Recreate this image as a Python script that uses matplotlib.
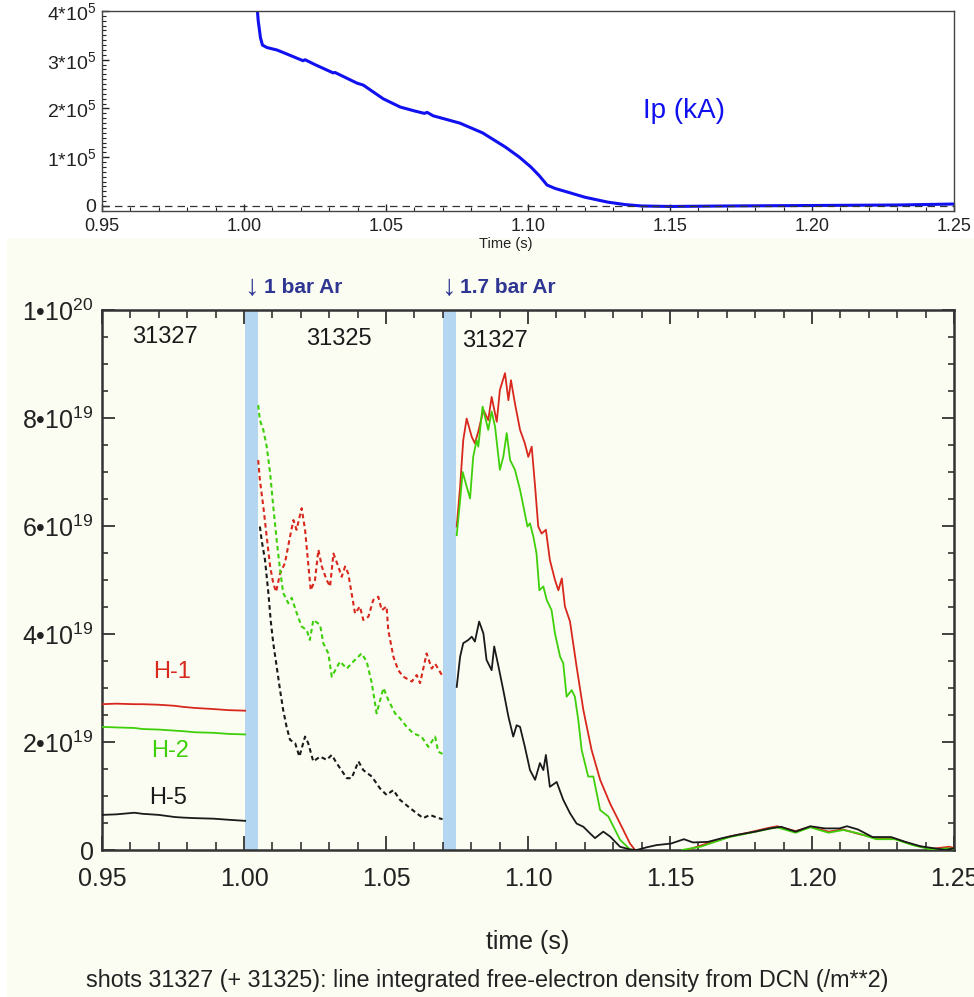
import matplotlib
matplotlib.use("Agg")
import matplotlib.pyplot as plt
from matplotlib.patches import Rectangle
from matplotlib.ticker import MultipleLocator

plt.rcParams['font.family'] = ['Liberation Sans', 'DejaVu Sans']
plt.rcParams['mathtext.fontset'] = 'custom'
plt.rcParams['mathtext.rm'] = 'Liberation Sans'
plt.rcParams['mathtext.it'] = 'Liberation Sans:italic'
plt.rcParams['mathtext.bf'] = 'Liberation Sans:bold'

# ---------------- data ----------------
# Plasma current (top panel), units of 1e5
ip_t = [1.0046, 1.0050, 1.0058, 1.0065, 1.0081, 1.0116, 1.015, 1.0208, 1.0215, 1.025,
        1.0314, 1.032, 1.0398, 1.042, 1.049, 1.055, 1.060, 1.0635, 1.0645, 1.0666,
        1.076, 1.084, 1.092, 1.097, 1.101, 1.104, 1.1067, 1.1095, 1.1148, 1.12,
        1.128, 1.134, 1.140, 1.15, 1.17, 1.20, 1.23, 1.25]
ip_v = [4.1, 3.8, 3.45, 3.3, 3.25, 3.2, 3.12, 2.98, 3.0, 2.9,
        2.73, 2.74, 2.52, 2.48, 2.2, 2.03, 1.95, 1.9, 1.92, 1.85,
        1.7, 1.5, 1.21, 1.0, 0.80, 0.62, 0.43, 0.36, 0.27, 0.18,
        0.08, 0.03, 0.0, -0.01, 0.0, 0.01, 0.02, 0.04]

# Shot 31327 before gas puff (units 1e19)
pre_t = [0.95, 0.955, 0.9614, 0.9643, 0.97, 0.9757, 0.9786, 0.9828, 0.9893, 0.9945, 1.0004]
pre_h1 = [2.70, 2.71, 2.70, 2.70, 2.69, 2.67, 2.65, 2.63, 2.61, 2.59, 2.58]
pre_h2 = [2.28, 2.27, 2.26, 2.24, 2.23, 2.21, 2.20, 2.18, 2.17, 2.15, 2.14]
pre_h5 = [0.65, 0.66, 0.69, 0.67, 0.65, 0.61, 0.60, 0.59, 0.58, 0.56, 0.54]

# Shot 31325 (dashed)
s25_h1_t = [1.0050, 1.0056, 1.0068, 1.0080, 1.0092, 1.0103, 1.0113, 1.0127, 1.0144, 1.0162,
            1.0174, 1.0185, 1.0203, 1.0215, 1.0226, 1.0235, 1.0250, 1.0262, 1.0274, 1.0291,
            1.0303, 1.0315, 1.0332, 1.0344, 1.0356, 1.0367, 1.0379, 1.0391, 1.0408, 1.0420,
            1.0438, 1.0455, 1.0473, 1.0485, 1.0502, 1.0508, 1.0526, 1.0543, 1.0561, 1.0591,
            1.0608, 1.0620, 1.0643, 1.0661, 1.0673, 1.0699]
s25_h1_v = [7.22, 6.85, 6.36, 5.80, 5.25, 4.94, 4.78, 5.12, 5.31, 5.80,
            6.11, 5.93, 6.33, 5.93, 5.31, 4.81, 5.00, 5.56, 5.25, 5.00,
            4.88, 5.49, 5.25, 5.06, 5.25, 5.12, 4.75, 4.38, 4.51, 4.26,
            4.32, 4.63, 4.69, 4.44, 4.51, 4.07, 3.58, 3.33, 3.21, 3.12,
            3.24, 3.09, 3.64, 3.36, 3.45, 3.22]
s25_h2_t = [1.0050, 1.0056, 1.0068, 1.0080, 1.0092, 1.0103, 1.0115, 1.0127, 1.0138, 1.0156,
            1.0168, 1.0186, 1.0203, 1.0221, 1.0232, 1.0244, 1.0268, 1.0279, 1.0297, 1.0309,
            1.0338, 1.0362, 1.0385, 1.0414, 1.0432, 1.0450, 1.0467, 1.0491, 1.0508, 1.0532,
            1.0549, 1.0573, 1.0596, 1.0625, 1.0649, 1.0673, 1.0684, 1.0699]
s25_h2_v = [8.24, 7.96, 7.78, 7.47, 6.98, 6.36, 5.74, 5.19, 4.76, 4.57,
            4.67, 4.38, 4.14, 4.07, 3.89, 4.26, 4.17, 3.83, 3.64, 3.21,
            3.49, 3.36, 3.49, 3.64, 3.49, 3.09, 2.53, 3.00, 2.78, 2.53,
            2.44, 2.28, 2.16, 2.10, 1.91, 2.10, 1.82, 1.78]
s25_h5_t = [1.0056, 1.0062, 1.0074, 1.0086, 1.0094, 1.0103, 1.0115, 1.0127, 1.0138, 1.0150,
            1.0162, 1.0180, 1.0195, 1.0215, 1.0226, 1.0244, 1.0268, 1.0291, 1.0309, 1.0326,
            1.0362, 1.0379, 1.0403, 1.0420, 1.0450, 1.0479, 1.0502, 1.0526, 1.0549, 1.0579,
            1.0608, 1.0631, 1.0655, 1.0679, 1.0699]
s25_h5_v = [5.99, 5.74, 5.37, 4.75, 4.25, 3.83, 3.40, 2.96, 2.59, 2.28,
            2.04, 1.98, 1.73, 2.10, 1.98, 1.64, 1.73, 1.67, 1.76, 1.61,
            1.33, 1.33, 1.64, 1.48, 1.36, 1.14, 1.02, 1.11, 0.93, 0.80,
            0.68, 0.59, 0.65, 0.60, 0.57]

# Shot 31327 after 1.7 bar Ar (solid)
s27_h1_t = [1.0749, 1.0761, 1.0772, 1.0784, 1.0802, 1.0813, 1.0825, 1.0843, 1.0860, 1.0872,
            1.0890, 1.0901, 1.0919, 1.0931, 1.0940, 1.0954, 1.0972, 1.0989, 1.1001, 1.1013,
            1.1025, 1.1036, 1.1048, 1.1063, 1.1077, 1.1095, 1.1107, 1.1119, 1.1130, 1.1148,
            1.1154, 1.1171, 1.1195, 1.1224, 1.1254, 1.1289, 1.1330, 1.1359, 1.1377]
s27_h1_v = [5.99, 6.73, 7.59, 7.99, 7.65, 7.53, 7.75, 8.15, 7.96, 8.39,
            7.93, 8.52, 8.83, 8.33, 8.70, 8.27, 7.78, 7.53, 7.28, 7.47,
            6.73, 5.99, 5.86, 5.93, 5.37, 5.00, 4.81, 5.03, 4.51, 4.23,
            4.01, 3.40, 2.59, 1.85, 1.30, 0.86, 0.43, 0.12, 0.0]
s27_h2_t = [1.0749, 1.0761, 1.0770, 1.0784, 1.0796, 1.0807, 1.0819, 1.0825, 1.0840, 1.0860,
            1.0872, 1.0884, 1.0901, 1.0913, 1.0925, 1.0937, 1.0954, 1.0972, 1.0984, 1.0998,
            1.1007, 1.1019, 1.1030, 1.1040, 1.1054, 1.1066, 1.1083, 1.1095, 1.1113, 1.1124,
            1.1136, 1.1154, 1.1165, 1.1177, 1.1189, 1.1212, 1.1230, 1.1254, 1.1283, 1.1324,
            1.1359, 1.1375]
s27_h2_v = [5.83, 6.48, 7.00, 6.73, 6.51, 7.28, 7.59, 7.47, 8.21, 7.78,
            8.12, 7.84, 7.04, 7.28, 7.72, 7.22, 7.04, 6.67, 6.36, 5.99,
            6.05, 5.80, 5.49, 4.81, 4.88, 4.63, 4.44, 4.01, 3.58, 3.46,
            2.84, 2.96, 2.84, 2.41, 1.85, 1.36, 1.36, 0.74, 0.62, 0.19,
            0.01, 0.0]
s27_h5_t = [1.0749, 1.0761, 1.0772, 1.0790, 1.0802, 1.0813, 1.0828, 1.0843, 1.0854, 1.0872,
            1.0881, 1.0896, 1.0913, 1.0931, 1.0948, 1.0960, 1.0972, 1.0989, 1.1007, 1.1025,
            1.1042, 1.1054, 1.1063, 1.1077, 1.1101, 1.1124, 1.1148, 1.1171, 1.1195, 1.1218,
            1.1236, 1.1265, 1.1289, 1.1324, 1.1359, 1.1383, 1.1418, 1.1452, 1.1504, 1.1549,
            1.1581, 1.1633, 1.1684, 1.1736, 1.1800, 1.1852, 1.1891, 1.1942, 1.1994, 1.2045,
            1.2097, 1.2123, 1.2162, 1.2213, 1.2278, 1.2329, 1.2381, 1.2432, 1.2471, 1.2497]
s27_h5_v = [3.02, 3.58, 3.83, 3.89, 3.95, 3.86, 4.23, 4.01, 3.52, 3.33,
            3.77, 3.40, 2.96, 2.47, 2.10, 2.31, 2.28, 1.91, 1.48, 1.30,
            1.61, 1.48, 1.76, 1.17, 1.26, 0.93, 0.68, 0.49, 0.43, 0.31,
            0.22, 0.34, 0.25, 0.06, 0.01, 0.0, 0.05, 0.09, 0.12, 0.20,
            0.14, 0.15, 0.22, 0.28, 0.34, 0.40, 0.43, 0.34, 0.44, 0.40,
            0.40, 0.44, 0.38, 0.24, 0.24, 0.15, 0.07, 0.03, 0.0, 0.03]
late_h1_t = [1.1560, 1.1607, 1.1658, 1.1710, 1.1775, 1.1839, 1.1877, 1.1942, 1.1994, 1.2058,
             1.2110, 1.2162, 1.2226, 1.2291, 1.2355, 1.2419, 1.2484, 1.2497]
late_h1_v = [0.0, 0.08, 0.17, 0.25, 0.32, 0.40, 0.44, 0.35, 0.43, 0.34,
             0.38, 0.30, 0.22, 0.21, 0.10, 0.02, 0.06, 0.04]
late_h2_t = [1.1542, 1.1607, 1.1658, 1.1710, 1.1775, 1.1839, 1.1877, 1.1942, 1.1994, 1.2058,
             1.2110, 1.2162, 1.2226, 1.2291, 1.2355, 1.2419, 1.2484, 1.2497]
late_h2_v = [0.0, 0.06, 0.15, 0.24, 0.31, 0.38, 0.42, 0.32, 0.42, 0.32,
             0.37, 0.31, 0.20, 0.20, 0.09, 0.01, 0.03, 0.02]

xticks = [0.95, 1.00, 1.05, 1.10, 1.15, 1.20, 1.25]
xticklabels = ['0.95', '1.00', '1.05', '1.10', '1.15', '1.20', '1.25']
top_yticks = [0, 1e5, 2e5, 3e5, 4e5]
top_yticklabels = ['0', r'1*10$^{5}$', r'2*10$^{5}$', r'3*10$^{5}$', r'4*10$^{5}$']
bot_yticks = [0, 2e19, 4e19, 6e19, 8e19, 1e20]
bot_yticklabels = ['0', r'2•10$^{19}$', r'4•10$^{19}$', r'6•10$^{19}$', r'8•10$^{19}$', r'1•10$^{20}$']
bands = [(1.0003, 1.0048), (1.0700, 1.0747)]

RED = '#d8281e'
GREEN = '#3fcf0a'
BLACK = '#1a1a1a'
BAND = '#b4d6f0'
ANN = '#2e3592'
CREAM = '#fbfdf3'

W, H = 974, 997
fig = plt.figure(figsize=(W / 100, H / 100), dpi=100)
fig.patch.set_facecolor('white')
bg = Rectangle((7 / W, 0), 1, (H - 238) / H, transform=fig.transFigure,
               facecolor=CREAM, edgecolor='none', zorder=-10)
fig.patches.append(bg)

def fx(px):
    return px / W

def fy(py):
    return 1 - py / H

# ---------------- top panel ----------------
ax1 = fig.add_axes([fx(102), fy(211), fx(954) - fx(102), fy(11) - fy(211)])
ax1.set_facecolor('white')
ax1.plot(ip_t, [v * 1e5 for v in ip_v], color='#1010f0', lw=2.2, solid_capstyle='butt')
ax1.axhline(0, color='#333333', lw=0.9, ls=(0, (6, 4)))
ax1.set_xlim(0.95, 1.25)
ax1.set_ylim(-1.03e4, 4.0e5)
ax1.set_xticks(xticks)
ax1.set_xticklabels(xticklabels)
ax1.set_yticks(top_yticks)
ax1.set_yticklabels(top_yticklabels)
ax1.xaxis.set_minor_locator(MultipleLocator(0.01))
ax1.yaxis.set_minor_locator(MultipleLocator(1e4))
ax1.tick_params(which='both', direction='in', labelsize=13, colors='#222222')
ax1.tick_params(axis='y', labelsize=14)
ax1.tick_params(which='major', length=5, width=1.0, pad=4)
ax1.tick_params(axis='x', which='major', pad=5)
ax1.tick_params(which='minor', length=3, width=0.8)
for s in ax1.spines.values():
    s.set_color('#444444')
    s.set_linewidth(1.0)
fig.text(fx(506), fy(244), 'Time (s)', ha='center', va='center', fontsize=10.5,
         color='#222222', zorder=5)
ax1.text(1.155, 1.95e5, 'Ip (kA)', color='#1010f0', fontsize=20, ha='center', va='center')

# ---------------- bottom panel ----------------
ax2 = fig.add_axes([fx(102), fy(850), fx(954) - fx(102), fy(310) - fy(850)])
ax2.set_facecolor(CREAM)
for a, b in bands:
    ax2.axvspan(a, b, color=BAND, lw=0, zorder=1)

e19 = 1e19
ax2.plot(pre_t, [v * e19 for v in pre_h1], color=RED, lw=1.3, zorder=3)
ax2.plot(pre_t, [v * e19 for v in pre_h2], color=GREEN, lw=1.3, zorder=3)
ax2.plot(pre_t, [v * e19 for v in pre_h5], color=BLACK, lw=1.3, zorder=3)

dash = (0, (2.2, 1.6))
ax2.plot(s25_h1_t, [v * e19 for v in s25_h1_v], color=RED, lw=1.5, ls=dash, zorder=3)
ax2.plot(s25_h2_t, [v * e19 for v in s25_h2_v], color=GREEN, lw=1.5, ls=dash, zorder=3)
ax2.plot(s25_h5_t, [v * e19 for v in s25_h5_v], color=BLACK, lw=1.5, ls=dash, zorder=3)

ax2.plot(s27_h1_t, [v * e19 for v in s27_h1_v], color=RED, lw=1.3, zorder=3)
ax2.plot(s27_h2_t, [v * e19 for v in s27_h2_v], color=GREEN, lw=1.3, zorder=3)
ax2.plot(late_h1_t, [v * e19 for v in late_h1_v], color=RED, lw=1.3, zorder=3)
ax2.plot(late_h2_t, [v * e19 for v in late_h2_v], color=GREEN, lw=1.3, zorder=3)
ax2.plot(s27_h5_t, [v * e19 for v in s27_h5_v], color=BLACK, lw=1.3, zorder=4)

ax2.set_xlim(0.95, 1.25)
ax2.set_ylim(0, 1e20)
ax2.set_xticks(xticks)
ax2.set_xticklabels(xticklabels)
ax2.set_yticks(bot_yticks)
ax2.set_yticklabels(bot_yticklabels)
ax2.xaxis.set_minor_locator(MultipleLocator(0.01))
ax2.yaxis.set_minor_locator(MultipleLocator(0.5e19))
ax2.tick_params(which='both', direction='in', top=True, right=True, labelsize=18,
                colors='#222222')
ax2.tick_params(which='major', length=10, width=1.2, pad=12)
ax2.tick_params(axis='y', which='major', length=9, pad=6)
ax2.tick_params(which='minor', length=6, width=1.1)
ax2.tick_params(axis='y', which='minor', length=4)
for s in ax2.spines.values():
    s.set_color('#333333')
    s.set_linewidth(1.8)

ax2.set_xlabel('time (s)', fontsize=18, color='#222222', labelpad=28)

for lbl, x, y in [('31327', 0.972, 9.5e19), ('31325', 1.0335, 9.47e19), ('31327', 1.0885, 9.42e19)]:
    ax2.text(x, y, lbl, fontsize=17, color='#1a1a1a', ha='center', va='center')

ax2.text(0.9746, 3.3e19, 'H-1', color=RED, fontsize=17, ha='center', va='center')
ax2.text(0.9739, 1.83e19, 'H-2', color=GREEN, fontsize=17, ha='center', va='center')
ax2.text(0.9732, 0.96e19, 'H-5', color=BLACK, fontsize=17, ha='center', va='center')

ax2.text(1.0001, 1.042e20, '↓', color=ANN, fontsize=21, ha='left', va='center',
         family=['Liberation Sans', 'DejaVu Sans'])
ax2.text(1.0072, 1.042e20, '1 bar Ar', color=ANN, fontsize=15, fontweight='bold',
         ha='left', va='center')
ax2.text(1.0694, 1.042e20, '↓', color=ANN, fontsize=21, ha='left', va='center',
         family=['Liberation Sans', 'DejaVu Sans'])
ax2.text(1.0762, 1.042e20, '1.7 bar Ar', color=ANN, fontsize=15, fontweight='bold',
         ha='left', va='center')

fig.text(0.5, fy(980), 'shots 31327 (+ 31325): line integrated free-electron density from DCN (/m**2)',
         ha='center', va='center', fontsize=16.8, color='#222222')

fig.savefig('out.png', dpi=100)
